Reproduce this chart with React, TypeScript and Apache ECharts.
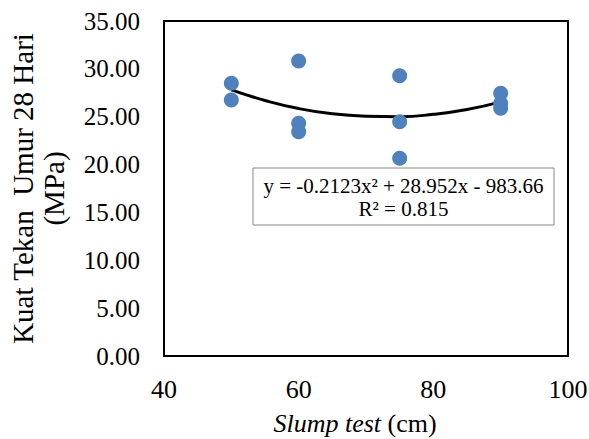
import React, { useEffect, useRef } from "react";
import * as echarts from "echarts";

const slump50 = [28.49, 26.75];
const slump60 = [30.82, 24.31, 23.44];
const slump75 = [29.29, 24.48, 20.65];
const slump90 = [27.45, 26.4, 25.88];
const slumpX = [50, 60, 75, 90];
const trendX = [50, 55, 60, 65, 70, 75, 80, 85, 90];
const trendY = [27.8, 26.7, 25.85, 25.3, 25.05, 25.0, 25.25, 25.75, 26.55];
const equationText = "y = -0.2123x² + 28.952x - 983.66";
const r2Text = "R² = 0.815";
const yTitle = "Kuat Tekan  Umur 28 Hari\n(MPa)";

const FONT = "'Liberation Serif', 'Times New Roman', serif";

export default function App() {
  const ref = useRef<HTMLDivElement>(null);
  useEffect(() => {
    if (!ref.current) return;
    const chart = echarts.init(ref.current, null, { renderer: "svg" });
    const groups = [slump50, slump60, slump75, slump90];
    const points: number[][] = [];
    groups.forEach((g, i) => g.forEach((v) => points.push([slumpX[i], v])));
    const trend = trendX.map((x, i) => [x, trendY[i]]);
    chart.setOption({
      animation: false,
      backgroundColor: "#fff",
      textStyle: { fontFamily: FONT },
      grid: {
        left: 164,
        top: 21,
        width: 404,
        height: 335,
        containLabel: false,
        outerBoundsMode: "none",
        show: true,
        borderColor: "#000",
        borderWidth: 2,
        backgroundColor: "#fff",
      },
      xAxis: {
        type: "value",
        min: 40,
        max: 100,
        interval: 20,
        axisLine: { show: false },
        axisTick: { show: false },
        splitLine: { show: false },
        axisLabel: { fontFamily: FONT, fontSize: 26, color: "#000", margin: 20 },
        name: "{i|Slump test}{n| (cm)}",
        nameLocation: "middle",
        nameGap: 54,
        nameTextStyle: {
          padding: [0, 22, 0, 0],
          rich: {
            i: { fontFamily: FONT, fontSize: 26, fontStyle: "italic", color: "#000" },
            n: { fontFamily: FONT, fontSize: 26, color: "#000" },
          },
        },
      },
      yAxis: {
        type: "value",
        min: 0,
        max: 35,
        interval: 5,
        axisLine: { show: false },
        axisTick: { show: false },
        splitLine: { show: false },
        axisLabel: {
          fontFamily: FONT,
          fontSize: 25,
          color: "#000",
          margin: 24,
          formatter: (v: number) => v.toFixed(2),
        },
        name: yTitle,
        nameLocation: "middle",
        nameGap: 95,
        nameTextStyle: { fontFamily: FONT, fontSize: 29, color: "#000", lineHeight: 31 },
      },
      series: [
        {
          type: "line",
          data: trend,
          smooth: true,
          showSymbol: false,
          lineStyle: { color: "#000", width: 3 },
          z: 3,
        },
        {
          type: "scatter",
          data: points,
          symbolSize: 15,
          itemStyle: { color: "#4F81BD", opacity: 1 },
          z: 4,
        },
      ],
      graphic: [
        {
          type: "rect",
          shape: { x: 253, y: 168, width: 301, height: 57 },
          style: { fill: "#fff", stroke: "#888", lineWidth: 1 },
          z: 10,
        },
        {
          type: "text",
          x: 403.5,
          y: 186,
          style: {
            text: equationText,
            font: `21px ${FONT}`,
            fill: "#000",
            align: "center",
            verticalAlign: "middle",
          },
          z: 11,
        },
        {
          type: "text",
          x: 403.5,
          y: 209,
          style: {
            text: r2Text,
            font: `21px ${FONT}`,
            fill: "#000",
            align: "center",
            verticalAlign: "middle",
          },
          z: 11,
        },
      ],
    });
    return () => chart.dispose();
  }, []);
  return (
    <div
      ref={ref}
      style={{ position: "fixed", left: 0, top: 0, width: 589, height: 439 }}
    />
  );
}
